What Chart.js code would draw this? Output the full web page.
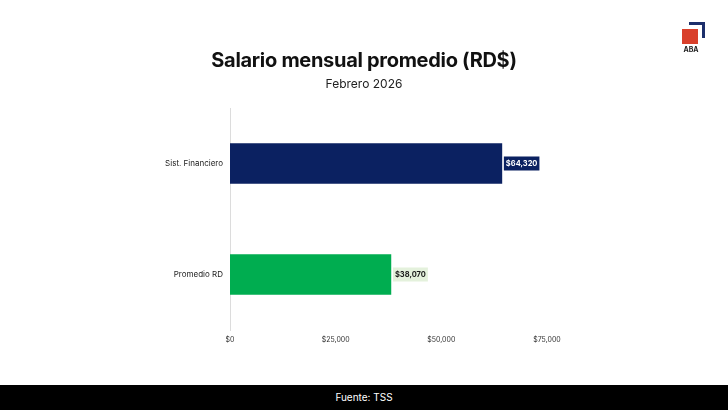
<!DOCTYPE html>
<html>
<head>
<meta charset="utf-8">
<script src="https://cdn.jsdelivr.net/npm/chart.js@4/dist/chart.umd.min.js"></script>
<style>
  html, body { margin: 0; padding: 0; background: #fff; }
  #wrap { position: relative; width: 728px; height: 410px; overflow: hidden; font-family: Inter, "Noto Sans", sans-serif; }
  #chart { position: absolute; left: 0; top: 0; }
  #title { position: absolute; left: 0; width: 728px; top: 48px; text-align: center; font-size: 20px; font-weight: 700; color: #111; letter-spacing: -0.3px; }
  #sub { position: absolute; left: 0; width: 728px; top: 76px; text-align: center; font-size: 12px; color: #222; }
  #footer { position: absolute; left: 0; top: 385px; width: 728px; height: 25px; background: #000; color: #fff; font-size: 10px; text-align: center; line-height: 25px; }
  #logo-l { position: absolute; left: 689px; top: 22px; width: 13px; height: 13px; border-top: 3px solid #1c2f6b; border-right: 3px solid #1c2f6b; }
  #logo-sq { position: absolute; left: 682px; top: 29px; width: 16px; height: 15px; background: #d9402b; }
  #logo-t { position: absolute; left: 677px; top: 45px; width: 28px; text-align: center; font-size: 7px; font-weight: 700; color: #222; }
</style>
</head>
<body>
<div id="wrap">
  <canvas id="chart" width="728" height="385"></canvas>
  <div id="title">Salario mensual promedio (RD$)</div>
  <div id="sub">Febrero 2026</div>
  <div id="logo-l"></div>
  <div id="logo-sq"></div>
  <div id="logo-t">ABA</div>
  <div id="footer">Fuente: TSS</div>
</div>
<script>
  const categories = ['Sist. Financiero', 'Promedio RD'];
  const salaries = [64320, 38070];
  const barColors = ['#0b2161', '#00ad50'];
  const labelBg = ['#0b2161', '#e4f1dc'];
  const labelFg = ['#ffffff', '#1a1a1a'];
  const xTicks = [0, 25000, 50000, 75000];

  const fmt = v => '$' + v.toLocaleString('en-US');

  const valueLabels = {
    id: 'valueLabels',
    afterDatasetsDraw(chart) {
      const ctx = chart.ctx;
      const meta = chart.getDatasetMeta(0);
      ctx.save();
      ctx.font = 'bold 7.5px Inter, "Noto Sans", sans-serif';
      ctx.textBaseline = 'middle';
      meta.data.forEach((bar, i) => {
        const text = fmt(salaries[i]);
        const w = ctx.measureText(text).width + 4;
        const x = bar.x + 2;
        ctx.fillStyle = labelBg[i];
        ctx.fillRect(x, bar.y - 7, w, 14);
        ctx.fillStyle = labelFg[i];
        ctx.fillText(text, x + 2, bar.y + 0.5);
      });
      ctx.restore();
    }
  };

  new Chart(document.getElementById('chart'), {
    type: 'bar',
    data: {
      labels: categories,
      datasets: [{
        data: salaries,
        backgroundColor: barColors,
        barThickness: 40
      }]
    },
    options: {
      indexAxis: 'y',
      responsive: false,
      animation: false,
      layout: { padding: { top: 108, right: 181, left: 0, bottom: 0 } },
      plugins: { legend: { display: false }, tooltip: { enabled: false } },
      scales: {
        x: {
          min: 0,
          max: 75000,
          grid: { display: false, drawTicks: false },
          border: { display: false },
          afterBuildTicks: s => { s.ticks = xTicks.map(v => ({ value: v })); },
          afterFit: s => { s.height = 55; },
          ticks: {
            padding: 6,
            color: '#333',
            font: { size: 7, family: 'Inter, "Noto Sans", sans-serif' },
            callback: v => fmt(v)
          }
        },
        y: {
          grid: { display: false, drawTicks: false },
          border: { display: true, color: '#dcdcdc', width: 1 },
          afterFit: s => { s.width = 230; },
          ticks: {
            padding: 7,
            color: '#222',
            font: { size: 8, family: 'Inter, "Noto Sans", sans-serif' }
          }
        }
      }
    },
    plugins: [valueLabels]
  });
</script>
</body>
</html>
